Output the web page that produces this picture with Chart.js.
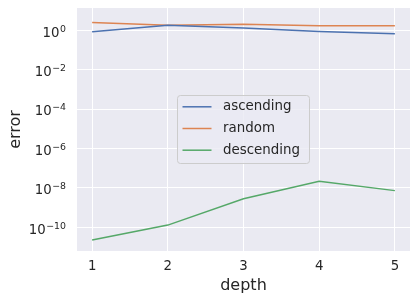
<!DOCTYPE html>
<html><head><meta charset="utf-8">
<script src="https://cdn.jsdelivr.net/npm/chart.js@4/dist/chart.umd.min.js"></script>
<style>html,body{margin:0;padding:0;background:#fff}#w{width:417px;height:301px}</style>
</head><body><div id="w"><canvas id="c"></canvas></div>
<script>
const depths = [1, 2, 3, 4, 5];
const ascending = [0.85, 1.8, 1.3, 0.87, 0.67];
const random = [2.5, 1.8, 2.0, 1.7, 1.7];
const descending = [2.3e-11, 1.3e-10, 2.8e-9, 2.2e-8, 7.3e-9];
const yTickValues = [1e-10, 1e-8, 1e-6, 1e-4, 1e-2, 1];
const yTickExponents = ['−10', '−8', '−6', '−4', '−2', '0'];
const seriesNames = ['ascending', 'random', 'descending'];
const colors = ['#4c72b0', '#dd8452', '#55a868'];

const FONT = "'DejaVu Sans', sans-serif";
const txt = '#262626';

function pts(arr){ return depths.map((d,i)=>({x:d, y:arr[i]})); }

const yLabelPlugin = {
  id: 'yLabels',
  afterDraw(chart){
    const ctx = chart.ctx, sc = chart.scales.y;
    ctx.save();
    ctx.fillStyle = txt;
    ctx.textBaseline = 'alphabetic';
    ctx.textAlign = 'left';
    const right = 66;
    yTickValues.forEach((v,i)=>{
      const y = sc.getPixelForValue(v);
      ctx.font = "9.4px " + FONT;
      const ew = ctx.measureText(yTickExponents[i]).width;
      ctx.font = "13.3px " + FONT;
      const bw = ctx.measureText('10').width;
      const xb = right - ew - bw - 0.5;
      ctx.fillText('10', xb, y + 6.3);
      ctx.font = "9.4px " + FONT;
      ctx.fillText(yTickExponents[i], xb + bw + 0.5, y + 1.3);
    });
    ctx.restore();
  }
};

const legendPlugin = {
  id: 'innerLegend',
  afterDraw(chart){
    const ctx = chart.ctx;
    const x0 = 177.5, y0 = 95.5, w = 132, h = 68;
    ctx.save();
    ctx.beginPath();
    const r = 3;
    ctx.moveTo(x0+r,y0);ctx.arcTo(x0+w,y0,x0+w,y0+h,r);ctx.arcTo(x0+w,y0+h,x0,y0+h,r);
    ctx.arcTo(x0,y0+h,x0,y0,r);ctx.arcTo(x0,y0,x0+w,y0,r);ctx.closePath();
    ctx.fillStyle = 'rgba(234,234,242,0.8)';
    ctx.fill();
    ctx.strokeStyle = '#cccccc';
    ctx.lineWidth = 1;
    ctx.stroke();
    ctx.font = "13.4px " + FONT;
    ctx.textBaseline = 'middle';
    chart.data.datasets.forEach((ds,i)=>{
      const yy = y0 + 11.3 + i*21.7;
      ctx.strokeStyle = ds.borderColor;
      ctx.lineWidth = 1.5;
      ctx.beginPath(); ctx.moveTo(x0+5, yy); ctx.lineTo(x0+34, yy); ctx.stroke();
      ctx.fillStyle = txt;
      ctx.fillText(ds.label, x0+45.5, yy);
    });
    ctx.restore();
  }
};

const bgPlugin = {
  id: 'plotBg',
  beforeDraw(chart){
    const a = chart.chartArea, ctx = chart.ctx;
    ctx.save(); ctx.fillStyle = '#eaeaf2';
    ctx.fillRect(a.left, a.top, a.right-a.left, a.bottom-a.top);
    ctx.restore();
  }
};

new Chart(document.getElementById('c'), {
  type: 'line',
  data: {
    datasets: [ascending, random, descending].map((arr,i)=>({
      label: seriesNames[i], data: pts(arr), borderColor: colors[i],
      backgroundColor: colors[i], borderWidth: 1.5, pointRadius: 0, tension: 0, fill: false
    }))
  },
  options: {
    responsive: true, maintainAspectRatio: false, animation: false,
    layout: { padding: { top: 8, right: 7, left: 0, bottom: 0 } },
    plugins: { legend: { display: false }, tooltip: { enabled: false } },
    scales: {
      x: {
        type: 'linear', min: 0.8, max: 5.2,
        afterBuildTicks: s => { s.ticks = depths.map(v=>({value:v})); },
        grid: { color: '#ffffff', lineWidth: 1, drawTicks: false },
        border: { display: false },
        ticks: { color: txt, font: { family: FONT, size: 13.3 }, padding: 8, callback: v => String(v) },
        title: { display: true, text: 'depth', color: txt, font: { family: FONT, size: 16 }, padding: { top: 0, bottom: 6 } },
        afterFit: s => { s.height = 50; }
      },
      y: {
        type: 'logarithmic', min: Math.pow(10,-11.2), max: Math.pow(10,1.13),
        afterBuildTicks: s => { s.ticks = yTickValues.map(v=>({value:v})); },
        grid: { color: '#ffffff', lineWidth: 1, drawTicks: false },
        border: { display: false },
        ticks: { display: false },
        title: { display: true, text: 'error', color: txt, font: { family: FONT, size: 16 }, padding: { top: 6, bottom: 0 } },
        afterFit: s => { s.width = 77; }
      }
    }
  },
  plugins: [bgPlugin, yLabelPlugin, legendPlugin]
});
</script></body></html>
